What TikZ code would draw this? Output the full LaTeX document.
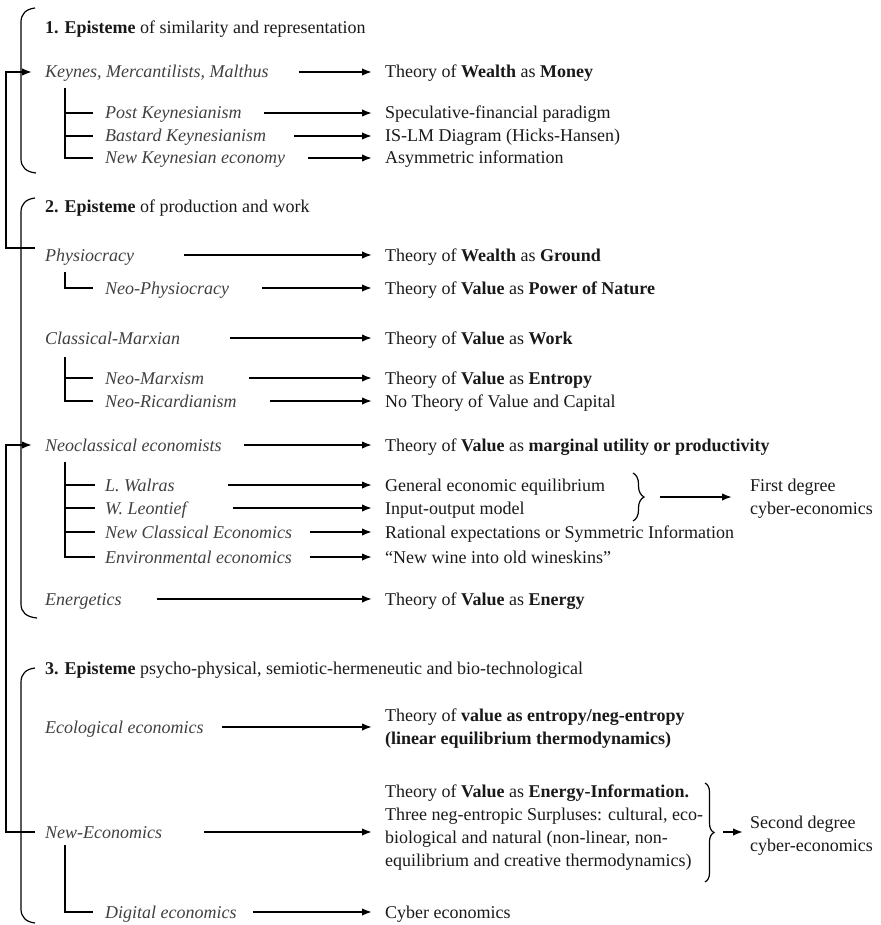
\documentclass[tikz,border=0pt]{standalone}
\usepackage{fontspec}
\setmainfont{Liberation Serif}
\usetikzlibrary{arrows.meta,decorations.pathreplacing}
\newcommand{\diagfont}{\fontsize{18}{23}\selectfont}

\begin{document}
\begin{tikzpicture}[x=1pt,y=-1pt,
  head/.style={anchor=west, inner sep=0pt, text height=12pt, text depth=0pt, font=\diagfont, text=black!90},
  school/.style={head, font=\diagfont\itshape, text=black!75},
  theory/.style={head},
  theorybox/.style={anchor=west, inner sep=0pt, align=left, font=\diagfont, text=black!90},
  arr/.style={line width=1.7pt, -{Latex[length=10pt,width=7.5pt]}, shorten >=13pt},
  tree/.style={line width=1.6pt, shorten >=12pt},
  brk/.style={line width=1.2pt},
  brc/.style={line width=1.2pt, decorate, decoration={brace, amplitude=10pt}}
]
  \useasboundingbox (0,0) rectangle (880,925);

  % Left round brackets around the three epistemes
  \draw[brk] (35,8) .. controls (26,9) and (21,14) .. (21,22) -- (21,159) .. controls (21,167) and (26,172) .. (36,173);
  \draw[brk] (35,198) .. controls (26,199) and (21,204) .. (21,212) -- (21,604) .. controls (21,612) and (26,617) .. (37,618);
  \draw[brk] (35,668) .. controls (26,669) and (21,674) .. (21,682) -- (21,909) .. controls (21,917) and (26,922) .. (35,923);

  % 1. Episteme of similarity and representation
  \node[head] (epi1) at (45,28) {\textbf{1. Episteme} of similarity and representation};
  \node[school] (keynes) at (45,72) {Keynes, Mercantilists, Malthus};
  \node[school] (post) at (105,113) {Post Keynesianism};
  \node[school] (bastard) at (105,136) {Bastard Keynesianism};
  \node[school] (newkey) at (105,158) {New Keynesian economy};

  \node[theory] (money) at (385,72) {Theory of \textbf{Wealth} as \textbf{Money}};
  \node[theory] (specul) at (385,113) {Speculative-financial paradigm};
  \node[theory] (islm) at (385,136) {IS-LM Diagram (Hicks-Hansen)};
  \node[theory] (asym) at (385,158) {Asymmetric information};

  \draw[tree] (65,88) |- (post.west);
  \draw[tree] (65,88) |- (bastard.west);
  \draw[tree] (65,88) |- (newkey.west);

  \draw[arr, shorten <=30pt] (keynes.east) -- (money.west);
  \draw[arr, shorten <=22pt] (post.east) -- (specul.west);
  \draw[arr, shorten <=28pt] (bastard.east) -- (islm.west);
  \draw[arr, shorten <=23pt] (newkey.east) -- (asym.west);

  % 2. Episteme of production and work
  \node[head] (epi2) at (45,207) {\textbf{2. Episteme} of production and work};
  \node[school] (physio) at (45,255) {Physiocracy};
  \node[school] (neophysio) at (105,288) {Neo-Physiocracy};
  \node[school] (classical) at (45,338) {Classical-Marxian};
  \node[school] (neomarx) at (105,378) {Neo-Marxism};
  \node[school] (neoric) at (105,401) {Neo-Ricardianism};
  \node[school] (neoclass) at (45,445) {Neoclassical economists};
  \node[school] (walras) at (105,485) {L. Walras};
  \node[school] (leontief) at (105,508) {W. Leontief};
  \node[school] (newclass) at (105,532) {New Classical Economics};
  \node[school] (environ) at (105,557) {Environmental economics};
  \node[school] (energetics) at (45,599) {Energetics};

  \node[theory] (ground) at (385,255) {Theory of \textbf{Wealth} as \textbf{Ground}};
  \node[theory] (nature) at (385,288) {Theory of \textbf{Value} as \textbf{Power of Nature}};
  \node[theory] (work) at (385,338) {Theory of \textbf{Value} as \textbf{Work}};
  \node[theory] (entropy) at (385,378) {Theory of \textbf{Value} as \textbf{Entropy}};
  \node[theory] (novalue) at (385,401) {No Theory of Value and Capital};
  \node[theory] (marginal) at (385,445) {Theory of \textbf{Value} as \textbf{marginal utility or productivity}};
  \node[theory] (gee) at (385,485) {General economic equilibrium};
  \node[theory] (io) at (385,508) {Input-output model};
  \node[theory] (rational) at (385,532) {Rational expectations or Symmetric Information};
  \node[theory] (wine) at (385,557) {``New wine into old wineskins''};
  \node[theory] (energy) at (385,599) {Theory of \textbf{Value} as \textbf{Energy}};

  \draw[tree] (65,272) |- (neophysio.west);
  \draw[tree] (65,357) |- (neomarx.west);
  \draw[tree] (65,357) |- (neoric.west);
  \draw[tree, shorten >=10pt] (65,462) |- (walras.west);
  \draw[tree, shorten >=10pt] (65,462) |- (leontief.west);
  \draw[tree, shorten >=10pt] (65,462) |- (newclass.west);
  \draw[tree, shorten >=10pt] (65,462) |- (environ.west);

  \draw[arr, shorten <=50pt] (physio.east) -- (ground.west);
  \draw[arr, shorten <=33pt] (neophysio.east) -- (nature.west);
  \draw[arr, shorten <=50pt] (classical.east) -- (work.west);
  \draw[arr, shorten <=45pt] (neomarx.east) -- (entropy.west);
  \draw[arr, shorten <=33pt] (neoric.east) -- (novalue.west);
  \draw[arr, shorten <=22pt] (neoclass.east) -- (marginal.west);
  \draw[arr, shorten <=53pt] (walras.east) -- (gee.west);
  \draw[arr, shorten <=46pt] (leontief.east) -- (io.west);
  \draw[arr, shorten <=18pt] (newclass.east) -- (rational.west);
  \draw[arr, shorten <=18pt] (environ.east) -- (wine.west);
  \draw[arr, shorten <=35pt] (energetics.east) -- (energy.west);

  % First degree cyber-economics
  \draw[brc, decoration={brace, amplitude=11pt}] (633,473) -- (633,521);
  \coordinate (tip1) at (660,497);
  \node[theorybox] (first) at (750,499) {First degree\\cyber-economics};
  \draw[arr, shorten >=18pt] (tip1) -- (first.west |- tip1);

  % 3. Episteme psycho-physical, semiotic-hermeneutic and bio-technological
  \node[head] (epi3) at (45,668) {\textbf{3. Episteme} psycho-physical, semiotic-hermeneutic and bio-technological};
  \node[school] (ecol) at (45,727) {Ecological economics};
  \node[school] (neweco) at (45,832) {New-Economics};
  \node[school] (digital) at (105,912) {Digital economics};

  \node[theorybox] (ecolval) at (385,729) {Theory of \textbf{value as entropy/neg-entropy}\\\textbf{(linear equilibrium thermodynamics)}};
  \node[theorybox] (newval) at (385,828) {Theory of \textbf{Value} as \textbf{Energy-Information.}\\Three neg-entropic Surpluses: cultural, eco-\\biological and natural (non-linear, non-\\equilibrium and creative thermodynamics)};
  \node[theory] (cyber) at (385,912) {Cyber economics};

  \draw[tree] (65,845) |- (digital.west);

  \draw[arr, shorten <=18pt] (ecol.east) -- (ecolval.west |- ecol.east);
  \draw[arr, shorten <=42pt] (neweco.east) -- (newval.west |- neweco.east);
  \draw[arr, shorten <=16pt] (digital.east) -- (cyber.west);

  % Second degree cyber-economics
  \draw[brc, decoration={brace, amplitude=9pt}] (705,783) -- (705,882);
  \coordinate (tip2) at (723,832);
  \node[theorybox] (second) at (750,836) {Second degree\\cyber-economics};
  \draw[arr, shorten >=7pt] (tip2) -- (second.west |- tip2);

  % Feedback lines on the far left
  \draw[arr] ([shift={(-10,-7)}]physio.west) -- ++(-29,0) |- (keynes.west);
  \draw[arr] ([xshift=-10pt]neweco.west) -- ++(-29,0) |- (neoclass.west);

\end{tikzpicture}
\end{document}
